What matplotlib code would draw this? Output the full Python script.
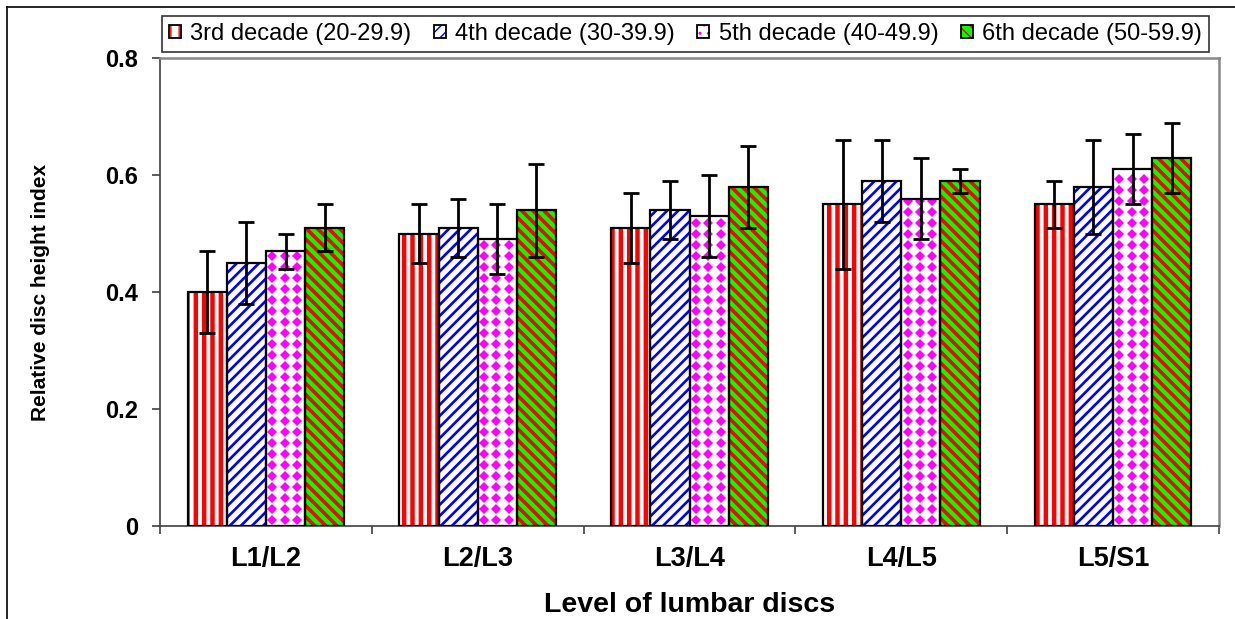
import matplotlib
matplotlib.use('Agg')
import matplotlib.pyplot as plt
import matplotlib.patches as mpatches
from matplotlib.lines import Line2D
from matplotlib.legend_handler import HandlerTuple
import numpy as np

plt.rcParams['font.family'] = ['Liberation Sans', 'DejaVu Sans']

levels = ['L1/L2', 'L2/L3', 'L3/L4', 'L4/L5', 'L5/S1']
groups = ['3rd decade (20-29.9)', '4th decade (30-39.9)',
          '5th decade (40-49.9)', '6th decade (50-59.9)']

dec3 = [0.40, 0.50, 0.51, 0.55, 0.55]
dec3_sd = [0.07, 0.05, 0.06, 0.11, 0.04]
dec4 = [0.45, 0.51, 0.54, 0.59, 0.58]
dec4_sd = [0.07, 0.05, 0.05, 0.07, 0.08]
dec5 = [0.47, 0.49, 0.53, 0.56, 0.61]
dec5_sd = [0.03, 0.06, 0.07, 0.07, 0.06]
dec6 = [0.51, 0.54, 0.58, 0.59, 0.63]
dec6_sd = [0.04, 0.08, 0.07, 0.02, 0.06]

values = [dec3, dec4, dec5, dec6]
errors = [dec3_sd, dec4_sd, dec5_sd, dec6_sd]

# fill colour, hatch colour, hatch pattern, hatch line width (None -> diamond texture)
styles = [('white', '#ff0000', '||', 3.2),
          ('white', '#0000ff', '///', 1.9),
          ('white', '#ff00ff', None, 3.0),
          ('#00ff00', '#ff0000', '\\\\\\', 2.6)]

fig = plt.figure(figsize=(12.35, 6.19), dpi=100)
ax = fig.add_axes([0.1296, 0.151, 0.8574, 0.7545])
ax.set_xlim(-0.5, len(levels) - 0.5)
ax.set_ylim(0, 0.8)

x = np.arange(len(levels))
width = 0.185
# diamond texture spacing, in data units (about 12.5 px by 11 px)
dx_tex = 12.5 / 212
dy_tex = 11 / 583

handles = []
for i, (vals, errs) in enumerate(zip(values, errors)):
    face, hcol, hatch, hlw = styles[i]
    pos = x + (i - 1.5) * width
    filled = ax.bar(pos, vals, width, color=face, edgecolor=hcol, hatch=hatch,
                    linewidth=0, zorder=2)
    for p in filled:
        p.set_hatch_linewidth(hlw)
    if hatch is None:
        # magenta diamonds clipped to each bar
        for p, xc, v in zip(filled, pos, vals):
            gx = np.arange(xc - width / 2 + dx_tex / 2, xc + width / 2, dx_tex)
            gy = np.arange(dy_tex / 2, v, dy_tex)
            X, Y = np.meshgrid(gx, gy)
            dots, = ax.plot(X.ravel(), Y.ravel(), linestyle='none', marker='D',
                            markersize=5.2, markeredgewidth=0, color=hcol, zorder=2.5)
            dots.set_clip_path(p)
    ax.bar(pos, vals, width, fill=False, edgecolor='black', linewidth=1.6, zorder=3)
    ax.errorbar(pos, vals, yerr=errs, fmt='none', ecolor='black', elinewidth=2,
                capsize=6, capthick=2, zorder=4)

    hp = mpatches.Patch(facecolor=face, edgecolor=hcol, hatch=hatch if hatch else '..',
                        linewidth=0)
    hp.set_hatch_linewidth(hlw)
    ep = mpatches.Patch(fill=False, edgecolor='black', linewidth=1.3)
    handles.append((hp, ep))

ax.set_yticks([0, 0.2, 0.4, 0.6, 0.8])
ax.set_yticklabels(['0', '0.2', '0.4', '0.6', '0.8'])
ax.set_xticks(np.arange(len(levels) + 1) - 0.5)
ax.set_xticklabels([])
ax.set_xticks(x, minor=True)
ax.set_xticklabels(levels, minor=True, fontsize=19.5, fontweight='bold')
ax.tick_params(axis='x', which='major', direction='out', length=6, width=1.2, color='#404040')
ax.tick_params(axis='x', which='minor', length=0, pad=15)
ax.tick_params(axis='y', direction='out', length=6, width=1.2, color='#404040',
               labelsize=17, pad=10)
for lab in ax.get_yticklabels():
    lab.set_fontweight('bold')

for side in ['left', 'bottom']:
    ax.spines[side].set_color('#404040')
    ax.spines[side].set_linewidth(1.2)
for side in ['top', 'right']:
    ax.spines[side].set_color('#888888')
    ax.spines[side].set_linewidth(1.8)

ax.set_ylabel('Relative disc height index', fontsize=15, fontweight='bold')
ax.yaxis.set_label_coords(-0.104, 0.5)
ax.set_xlabel('Level of lumbar discs', fontsize=20.5, fontweight='bold')
ax.xaxis.label.set_va('baseline')
ax.xaxis.set_label_coords(0.5, -0.1846)

leg = fig.legend(handles, groups, loc='center', bbox_to_anchor=(685.5 / 1235, 1 - 34 / 619),
                 ncol=4, fontsize=17, frameon=True, fancybox=False,
                 handlelength=0.5, handleheight=0.5, handletextpad=0.4,
                 columnspacing=0.95, borderpad=0.3, borderaxespad=0,
                 handler_map={tuple: HandlerTuple(ndivide=1)})
leg.get_frame().set_edgecolor('black')
leg.get_frame().set_linewidth(1.2)

# outer frame lines (left and top)
fig.add_artist(Line2D([7 / 1235, 7 / 1235], [0, 1 - 7 / 619], transform=fig.transFigure,
                      color='black', linewidth=1.2))
fig.add_artist(Line2D([7 / 1235, 1], [1 - 7 / 619, 1 - 7 / 619], transform=fig.transFigure,
                      color='black', linewidth=1.2))

fig.savefig('out.png', dpi=100)
